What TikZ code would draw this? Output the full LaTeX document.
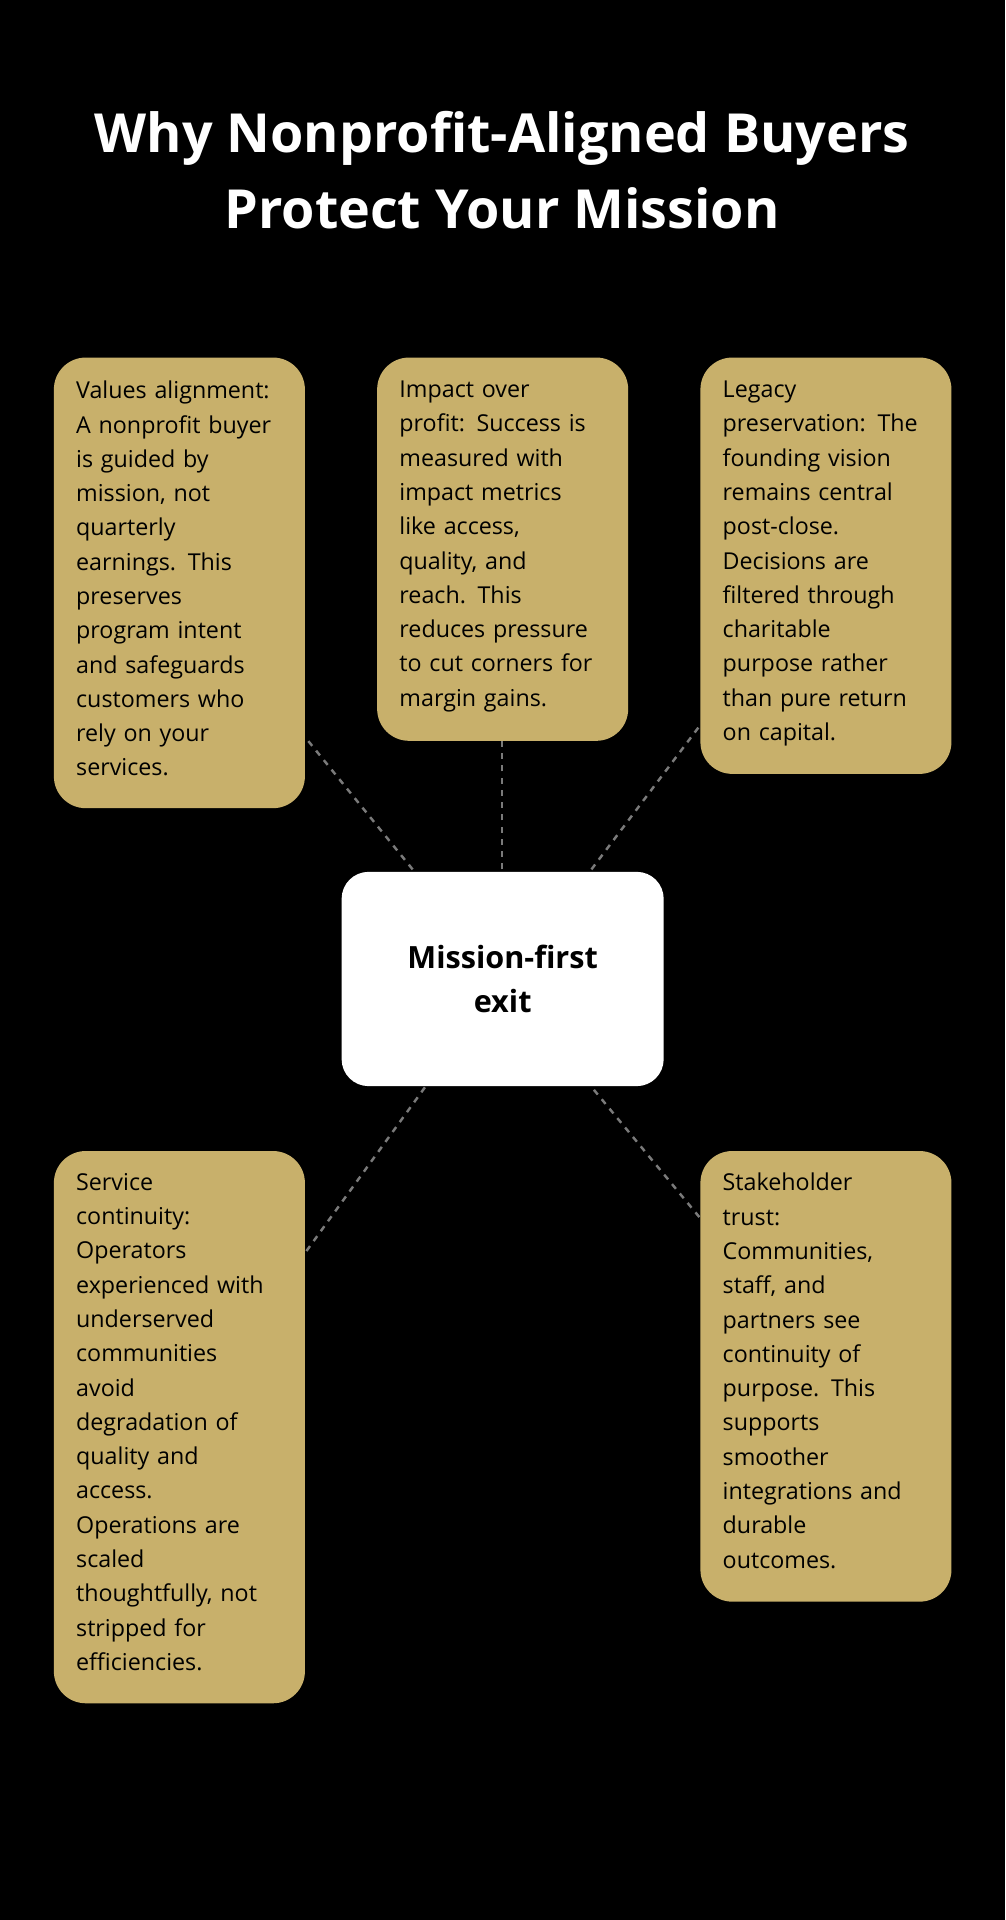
\documentclass[tikz,border=0pt]{standalone}
\usepackage{fontspec}
\setmainfont{Open Sans}
\definecolor{gold}{HTML}{C8B06B}
\definecolor{ln}{HTML}{7A7A7A}
\begin{document}
\begin{tikzpicture}[x=1pt,y=-1pt,
  card/.style={fill=gold,rounded corners=26pt},
  txt/.style={anchor=north west,align=left,text width=178pt,inner sep=0pt,font=\fontsize{19}{28}\selectfont,text=black},
  conn/.style={draw=ln,line width=2pt,dash pattern=on 5pt off 5pt}]
\fill[black] (0,0) rectangle (821,1568);
\useasboundingbox (0,0) rectangle (821,1568);
\node[text=white,font=\fontsize{44}{62}\selectfont\bfseries,align=center] (title) at (410,139) {Why Nonprofit-Aligned Buyers\\Protect Your Mission};
\fill[card] (44,292) rectangle (249,660);
\fill[card] (308,292) rectangle (513,605);
\fill[card] (572,292) rectangle (777,632);
\fill[card] (44,940) rectangle (249,1391);
\fill[card] (572,940) rectangle (777,1308);
\node[txt] (a) at (62,311) {Values alignment:\\A nonprofit buyer\\is guided by\\mission, not\\quarterly\\earnings. This\\preserves\\program intent\\and safeguards\\customers who\\rely on your\\services.};
\node[txt] (b) at (326,311) {Impact over\\profit: Success is\\measured with\\impact metrics\\like access,\\quality, and\\reach. This\\reduces pressure\\to cut corners for\\margin gains.};
\node[txt] (c) at (590,311) {Legacy\\preservation: The\\founding vision\\remains central\\post-close.\\Decisions are\\filtered through\\charitable\\purpose rather\\than pure return\\on capital.};
\node[txt] (d) at (62,958) {Service\\continuity:\\Operators\\experienced with\\underserved\\communities\\avoid\\degradation of\\quality and\\access.\\Operations are\\scaled\\thoughtfully, not\\stripped for\\efficiencies.};
\node[txt] (e) at (590,958) {Stakeholder\\trust:\\Communities,\\staff, and\\partners see\\continuity of\\purpose. This\\supports\\smoother\\integrations and\\durable\\outcomes.};
\node[fill=white,rounded corners=22pt,minimum width=263pt,minimum height=175pt,align=center,font=\fontsize{25}{36}\selectfont\bfseries] (m) at (410.5,799.5) {Mission-first\\exit};
\coordinate (pa) at (250,603); \coordinate (pb) at (410,605); \coordinate (pc) at (572,592);
\coordinate (pd) at (250,1022); \coordinate (pe) at (572,995);
\coordinate (ma) at (337,710); \coordinate (mb) at (410,710); \coordinate (mc) at (483,710);
\coordinate (md) at (347,888); \coordinate (me) at (485,890);
\draw[conn] (ma) -- (pa); \draw[conn] (mb) -- (pb); \draw[conn] (mc) -- (pc);
\draw[conn] (md) -- (pd); \draw[conn] (me) -- (pe);
\end{tikzpicture}
\end{document}
